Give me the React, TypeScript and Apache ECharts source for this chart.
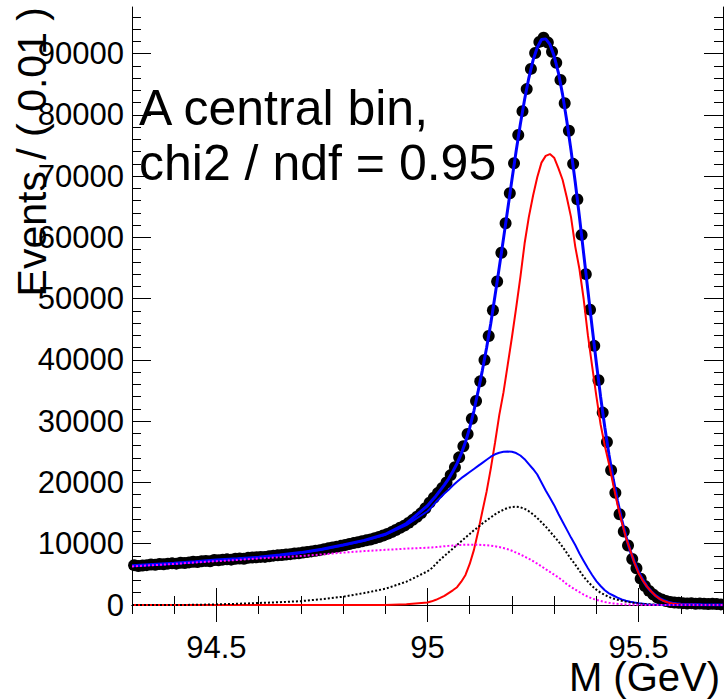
import { useEffect, useRef } from "react";
import * as echarts from "echarts";

// Histogram binning: Events / ( 0.01 )
const binLow = 94.3;
const binWidth = 0.01;

// Data counts per bin (140 bins, 94.30 .. 95.70)
const counts = [
  6500, 6350, 6450, 6500, 6600, 6550, 6700, 6650, 6750, 6800,
  6750, 6900, 6850, 6950, 7050, 7000, 7150, 7200, 7150, 7350,
  7300, 7400, 7450, 7400, 7550, 7600, 7550, 7700, 7750, 7800,
  7850, 7850, 7950, 8050, 8100, 8150, 8250, 8300, 8400, 8450,
  8550, 8650, 8750, 8850, 8950, 9100, 9250, 9400, 9500, 9650,
  9800, 9950, 10100, 10250, 10400, 10550, 10700, 10900, 11100, 11350,
  11600, 11900, 12250, 12600, 12950, 13400, 13900, 14400, 15000, 15800,
  16700, 17500, 18300, 19100, 20000, 21200, 22500, 24100, 25900, 27900,
  30400, 33300, 36500, 40000, 43900, 48100, 52800, 57500, 62300, 67200,
  72100, 76700, 80600, 84200, 87500, 90100, 91900, 92600, 91800, 90300,
  88500, 85700, 81900, 77400, 72000, 66200, 60400, 54000, 48200, 42300,
  36700, 31400, 26600, 22000, 18300, 14800, 12000, 9700, 7500, 6000,
  4300, 3100, 2300, 1700, 1200, 900, 650, 500, 400, 350,
  300, 250, 300, 200, 250, 200, 150, 200, 150, 100,
];

// Sampling points of the fitted curves
const curveX = [
  94.30, 94.35, 94.40, 94.45, 94.50, 94.55, 94.60, 94.65, 94.70, 94.75, 94.80, 94.85, 94.90, 94.95,
  95.00, 95.01, 95.02, 95.03, 95.04, 95.05, 95.06, 95.07, 95.08, 95.09,
  95.10, 95.11, 95.12, 95.13, 95.14, 95.15, 95.16, 95.17, 95.18, 95.19,
  95.20, 95.21, 95.22, 95.23, 95.24, 95.25, 95.26, 95.27, 95.28, 95.29,
  95.30, 95.31, 95.32, 95.33, 95.34, 95.35, 95.36, 95.37, 95.38, 95.39,
  95.40, 95.41, 95.42, 95.43, 95.44, 95.45, 95.46, 95.47, 95.48, 95.49,
  95.50, 95.51, 95.52, 95.53, 95.54, 95.55, 95.56, 95.57, 95.58, 95.59,
  95.60, 95.65, 95.70,
];

// Total fit (thick blue)
const totalFit = [
  6400, 6600, 6800, 7050, 7350, 7550, 7800, 8150, 8550, 9100, 9800, 10550, 11550, 13300,
  16200, 17000, 17800, 18700, 19600, 20600, 21800, 23100, 24700, 26600,
  28900, 31700, 34900, 38300, 42000, 46000, 50500, 55100, 59800, 64600,
  69400, 74100, 78500, 82500, 86000, 88900, 91000, 92300, 92400, 91500,
  89600, 86900, 83300, 79000, 74200, 69000, 63300, 57300, 51300, 45300,
  39500, 34000, 29000, 24500, 20500, 17000, 13900, 11200, 8900, 7000,
  5400, 4100, 3000, 2200, 1550, 1050, 700, 450, 300, 200,
  130, 30, 10,
];

// Signal component (red)
const signal = [
  0, 0, 0, 0, 0, 0, 0, 0, 0, 0, 0, 0, 20, 120,
  400, 600, 850, 1150, 1500, 1950, 2400, 2900, 3800, 4900,
  6700, 9000, 12000, 15300, 18500, 22300, 26500, 31000, 34700, 39200,
  43700, 48500, 53500, 59000, 63300, 66800, 69800, 72200, 73300, 73600,
  73000, 71300, 69400, 66500, 63300, 58500, 54800, 49900, 44000, 39000,
  34100, 29500, 26000, 23000, 19600, 16400, 13600, 11000, 9000, 6900,
  5200, 4000, 3000, 2200, 1500, 1000, 650, 400, 250, 150,
  80, 10, 0,
];

// Background sum (thin blue)
const bkgSum = [
  6350, 6550, 6750, 7000, 7300, 7500, 7750, 8100, 8500, 9050, 9750, 10500, 11450, 13050,
  15300, 16000, 16800, 17500, 18200, 18800, 19500, 20100, 20700, 21200,
  21700, 22200, 22700, 23200, 23700, 24200, 24600, 24850, 25000, 25050,
  25000, 24800, 24400, 23800, 23000, 22200, 21300, 20000, 18700, 17500,
  16300, 14900, 13600, 12300, 11000, 9800, 8400, 7200, 6000, 4900,
  3900, 3100, 2400, 1900, 1550, 1200, 900, 700, 530, 400,
  300, 220, 140, 80, 50, 30, 20, 10, 5, 0,
  0, 0, 0,
];

// Peaking background (black dotted)
const bkgPeak = [
  0, 0, 0, 30, 100, 200, 330, 460, 630, 950, 1350, 1950, 2650, 3800,
  5500, 6000, 6700, 7400, 8000, 8600, 9200, 9800, 10400, 11000,
  11600, 12200, 12700, 13300, 13800, 14300, 14800, 15200, 15550, 15850,
  16000, 16050, 15950, 15700, 15300, 14800, 14200, 13500, 12800, 12000,
  11200, 10400, 9500, 8500, 7500, 6600, 5600, 4600, 3800, 3100,
  2500, 2000, 1650, 1300, 1050, 850, 680, 550, 430, 330,
  250, 170, 120, 80, 50, 30, 20, 10, 5, 0,
  0, 0, 0,
];

// Broad background (magenta dotted)
const bkgFlat = [
  6300, 6500, 6700, 6950, 7150, 7350, 7600, 7800, 8000, 8250, 8550, 8800, 9000, 9200,
  9350, 9400, 9450, 9520, 9590, 9650, 9700, 9750, 9800, 9830,
  9850, 9850, 9830, 9800, 9750, 9680, 9580, 9450, 9300, 9100,
  8850, 8550, 8250, 7900, 7550, 7150, 6750, 6300, 5850, 5400,
  4950, 4500, 4000, 3400, 2950, 2500, 2100, 1700, 1350, 1050,
  850, 650, 480, 360, 260, 190, 130, 90, 60, 40,
  25, 15, 10, 5, 0, 0, 0, 0, 0, 0,
  0, 0, 0,
];

// Axis ticks
const xMajorTicks = [94.5, 95, 95.5];
const xMinorTicks = [
  94.3, 94.4, 94.5, 94.6, 94.7, 94.8, 94.9, 95.0, 95.1, 95.2, 95.3, 95.4, 95.5, 95.6, 95.7,
];
const yMajorTicks = [0, 10000, 20000, 30000, 40000, 50000, 60000, 70000, 80000, 90000];
const yMinorTicks = [
  2000, 4000, 6000, 8000, 12000, 14000, 16000, 18000, 22000, 24000, 26000, 28000,
  32000, 34000, 36000, 38000, 42000, 44000, 46000, 48000, 52000, 54000, 56000, 58000,
  62000, 64000, 66000, 68000, 72000, 74000, 76000, 78000, 82000, 84000, 86000, 88000,
  92000, 94000, 96000,
];

const X_MIN = 94.3;
const X_MAX = 95.7;
const Y_MIN = 0;
const Y_MAX = 97600;

const FONT = "'Liberation Sans', Arial, Helvetica, sans-serif";
const FRAME = "#000";

function buildOption(): any {
  const pts = counts.map((c, i) => [binLow + binWidth * (i + 0.5), c]);
  const curve = (ys: number[]) => curveX.map((x, i) => [x, ys[i]]);

  const xAxisBase = { type: "value", min: X_MIN, max: X_MAX, splitLine: { show: false } };
  const yAxisBase = { type: "value", min: Y_MIN, max: Y_MAX, splitLine: { show: false } };

  const frameLine = { show: true, lineStyle: { color: FRAME, width: 1 } };
  const noLine = { show: false };
  const tick = (vals: number[], len: number) => ({
    show: true,
    inside: true,
    length: len,
    customValues: vals,
    lineStyle: { color: FRAME, width: 1 },
  });
  const noLabel = { show: false };

  return {
    animation: false,
    backgroundColor: "#fff",
    grid: { left: 132, top: 7, right: 1, bottom: 95, containLabel: false },
    xAxis: [
      {
        ...xAxisBase,
        position: "bottom",
        axisLine: frameLine,
        axisTick: tick(xMajorTicks, 17),
        axisLabel: {
          show: true,
          customValues: xMajorTicks,
          margin: 29,
          fontSize: 31,
          lineHeight: 26,
          fontFamily: FONT,
          color: "#000",
          formatter: (v: number) => String(v),
        },
      },
      { ...xAxisBase, position: "bottom", axisLine: noLine, axisTick: tick(xMinorTicks, 9), axisLabel: noLabel },
      { ...xAxisBase, position: "top", axisLine: frameLine, axisTick: tick(xMajorTicks, 17), axisLabel: noLabel },
      { ...xAxisBase, position: "top", axisLine: noLine, axisTick: tick(xMinorTicks, 9), axisLabel: noLabel },
    ],
    yAxis: [
      {
        ...yAxisBase,
        position: "left",
        axisLine: frameLine,
        axisTick: tick(yMajorTicks, 19),
        axisLabel: {
          show: true,
          customValues: yMajorTicks,
          margin: 8,
          fontSize: 31,
          fontFamily: FONT,
          color: "#000",
          formatter: (v: number) => String(v),
        },
      },
      { ...yAxisBase, position: "left", axisLine: noLine, axisTick: tick(yMinorTicks, 9), axisLabel: noLabel },
      { ...yAxisBase, position: "right", axisLine: frameLine, axisTick: tick(yMajorTicks, 19), axisLabel: noLabel },
      { ...yAxisBase, position: "right", axisLine: noLine, axisTick: tick(yMinorTicks, 9), axisLabel: noLabel },
    ],
    series: [
      {
        type: "scatter",
        xAxisIndex: 0,
        yAxisIndex: 0,
        data: pts,
        symbol: "circle",
        symbolSize: 12,
        itemStyle: { color: "#000", opacity: 1 },
        z: 2,
      },
      {
        type: "line",
        xAxisIndex: 0,
        yAxisIndex: 0,
        data: curve(totalFit),
        showSymbol: false,
        symbol: "none",
        lineStyle: { color: "#0000ff", width: 3 },
        z: 3,
      },
      {
        type: "line",
        xAxisIndex: 0,
        yAxisIndex: 0,
        data: curve(signal),
        showSymbol: false,
        symbol: "none",
        lineStyle: { color: "#ff0000", width: 2 },
        z: 4,
      },
      {
        type: "line",
        xAxisIndex: 0,
        yAxisIndex: 0,
        data: curve(bkgSum),
        showSymbol: false,
        symbol: "none",
        lineStyle: { color: "#0000ff", width: 2 },
        z: 4,
      },
      {
        type: "line",
        xAxisIndex: 0,
        yAxisIndex: 0,
        data: curve(bkgPeak),
        showSymbol: false,
        symbol: "none",
        lineStyle: { color: "#000", width: 2, type: [2, 2] },
        z: 4,
      },
      {
        type: "line",
        xAxisIndex: 0,
        yAxisIndex: 0,
        data: curve(bkgFlat),
        showSymbol: false,
        symbol: "none",
        lineStyle: { color: "#ff00ff", width: 2, type: [2, 2] },
        z: 4,
      },
    ],
    graphic: [
      {
        type: "text",
        x: 139,
        y: 107.7,
        z: 10,
        style: {
          text: "A central bin,",
          fontSize: 50,
          fontFamily: FONT,
          fill: "#000",
          align: "left",
          verticalAlign: "middle",
        },
      },
      {
        type: "text",
        x: 139,
        y: 163.4,
        z: 10,
        style: {
          text: "chi2 / ndf = 0.95",
          fontSize: 50,
          fontFamily: FONT,
          fill: "#000",
          align: "left",
          verticalAlign: "middle",
        },
      },
      {
        type: "text",
        x: 720,
        y: 677,
        z: 10,
        style: {
          text: "M (GeV)",
          fontSize: 40,
          lineHeight: 30,
          fontFamily: FONT,
          fill: "#000",
          align: "right",
          verticalAlign: "middle",
        },
      },
      {
        type: "text",
        x: 32,
        y: 7,
        rotation: Math.PI / 2,
        z: 10,
        style: {
          text: "Events / ( 0.01 )",
          fontSize: 41,
          fontFamily: FONT,
          fill: "#000",
          align: "right",
          verticalAlign: "middle",
        },
      },
    ],
  };
}

export default function App() {
  const ref = useRef<HTMLDivElement>(null);
  useEffect(() => {
    if (!ref.current) return;
    const chart = echarts.init(ref.current, null, { renderer: "svg" });
    chart.setOption(buildOption());
    return () => {
      chart.dispose();
    };
  }, []);
  return (
    <div
      ref={ref}
      style={{ position: "fixed", left: 0, top: 0, width: 724, height: 700, background: "#fff" }}
    />
  );
}
